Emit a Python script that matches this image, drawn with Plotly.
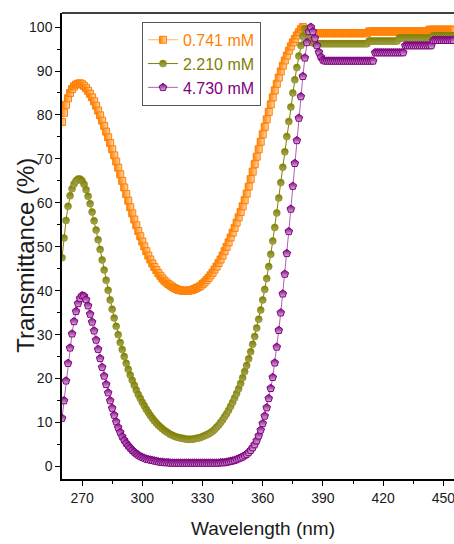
import plotly.graph_objects as go

wavelength = list(range(260, 456))

t_0741 = [
    78.4, 80.5, 82.3, 83.8, 85.0, 85.9, 86.5, 86.9, 87.1, 87.2,
    87.0, 86.6, 86.1, 85.5, 84.8, 84.0, 83.1, 82.1, 81.0, 79.9,
    78.7, 77.5, 76.2, 74.9, 73.6, 72.2, 70.8, 69.4, 68.0, 66.5,
    65.0, 63.5, 62.0, 60.5, 59.0, 57.6, 56.2, 54.9, 53.6, 52.4,
    51.2, 50.1, 49.0, 48.0, 47.1, 46.2, 45.4, 44.7, 44.0, 43.4,
    42.8, 42.3, 41.9, 41.5, 41.2, 40.9, 40.6, 40.4, 40.2, 40.1,
    40.0, 40.0, 40.0, 40.0, 40.1, 40.2, 40.4, 40.6, 40.8, 41.1,
    41.5, 41.9, 42.4, 42.9, 43.5, 44.1, 44.8, 45.5, 46.3, 47.1,
    48.0, 49.0, 50.0, 51.0, 52.1, 53.2, 54.3, 55.5, 56.7, 57.9,
    59.2, 60.6, 62.1, 63.7, 65.4, 67.1, 68.8, 70.5, 72.2, 73.9,
    75.6, 77.3, 79.0, 80.7, 82.4, 84.0, 85.6, 87.1, 88.5, 89.9,
    91.2, 92.4, 93.5, 94.6, 95.6, 96.5, 97.3, 98.1, 98.8, 99.5,
    100.0, 99.6, 99.0, 98.7, 98.6, 98.6, 98.6, 98.6, 98.6, 98.6,
    98.6, 98.6, 98.6, 98.6, 98.6, 98.6, 98.6, 98.6, 98.6, 98.6,
    98.6, 98.6, 98.6, 98.6, 98.6, 98.6, 98.6, 98.6, 98.6, 98.6,
    98.6, 98.6, 98.6, 99.0, 99.0, 99.0, 99.0, 99.0, 99.0, 99.0,
    99.0, 99.0, 99.0, 99.0, 99.0, 99.0, 99.0, 99.0, 99.0, 99.0,
    99.0, 99.0, 99.0, 99.0, 99.0, 99.0, 99.0, 99.0, 99.0, 99.0,
    99.0, 99.0, 99.0, 99.4, 99.4, 99.4, 99.4, 99.4, 99.4, 99.4,
    99.4, 99.4, 99.4, 99.4, 99.4, 99.4,
]

t_2210 = [
    47.5, 52.0, 56.0, 59.2, 61.6, 63.2, 64.3, 65.0, 65.4, 65.4,
    65.0, 64.2, 63.0, 61.5, 59.8, 57.9, 55.9, 53.8, 51.6, 49.4,
    47.0, 44.7, 42.4, 40.1, 37.9, 35.8, 33.8, 31.9, 30.0, 28.2,
    26.6, 25.0, 23.5, 22.1, 20.8, 19.6, 18.5, 17.4, 16.4, 15.5,
    14.6, 13.8, 13.0, 12.3, 11.6, 11.0, 10.4, 9.9, 9.4, 9.0,
    8.6, 8.2, 7.9, 7.6, 7.3, 7.1, 6.9, 6.7, 6.6, 6.5,
    6.4, 6.3, 6.2, 6.2, 6.2, 6.2, 6.3, 6.4, 6.5, 6.6,
    6.8, 7.0, 7.2, 7.4, 7.7, 8.0, 8.4, 8.9, 9.4, 10.0,
    10.6, 11.3, 12.0, 12.8, 13.7, 14.6, 15.6, 16.6, 17.7, 18.9,
    20.2, 21.6, 23.0, 24.5, 26.1, 27.8, 29.6, 31.5, 33.5, 35.6,
    37.9, 40.3, 42.8, 45.5, 48.3, 51.3, 54.4, 57.7, 61.1, 64.6,
    68.1, 71.6, 75.1, 78.5, 81.8, 85.0, 88.0, 90.8, 93.4, 95.8,
    97.9, 99.6, 99.3, 97.9, 96.9, 96.4, 96.2, 96.2, 96.2, 96.2,
    96.2, 96.2, 96.2, 96.2, 96.2, 96.2, 96.2, 96.2, 96.2, 96.2,
    96.2, 96.2, 96.2, 96.2, 96.2, 96.2, 96.2, 96.2, 96.2, 96.2,
    96.2, 96.2, 96.2, 96.8, 96.8, 96.8, 96.8, 96.8, 96.8, 96.8,
    96.8, 96.8, 96.8, 96.8, 96.8, 96.8, 96.8, 96.8, 97.5, 97.5,
    97.5, 97.5, 97.5, 97.5, 97.5, 97.5, 97.5, 97.5, 97.5, 97.5,
    97.5, 97.5, 97.5, 97.5, 97.5, 98.0, 98.0, 98.0, 98.0, 98.0,
    98.0, 98.0, 98.0, 98.0, 98.0, 98.0,
]

t_4730 = [
    11.0, 15.0, 19.5, 23.5, 27.0, 30.2, 33.0, 35.3, 37.1, 38.3,
    38.9, 38.8, 38.0, 36.6, 34.7, 32.9, 30.9, 28.8, 26.7, 24.6,
    22.6, 20.6, 18.7, 16.8, 15.0, 13.3, 11.7, 10.2, 8.9, 7.8,
    6.8, 6.0, 5.3, 4.7, 4.2, 3.7, 3.3, 2.9, 2.6, 2.3,
    2.1, 1.9, 1.7, 1.6, 1.5, 1.4, 1.3, 1.2, 1.1, 1.0,
    1.0, 0.9, 0.9, 0.9, 0.8, 0.8, 0.8, 0.8, 0.8, 0.8,
    0.8, 0.8, 0.8, 0.8, 0.8, 0.8, 0.8, 0.8, 0.8, 0.8,
    0.8, 0.8, 0.8, 0.8, 0.8, 0.8, 0.8, 0.8, 0.8, 0.9,
    0.9, 0.9, 1.0, 1.1, 1.2, 1.3, 1.4, 1.6, 1.8, 2.0,
    2.2, 2.5, 2.8, 3.2, 3.7, 4.3, 5.0, 5.9, 7.0, 8.3,
    9.8, 11.5, 13.4, 15.5, 17.8, 20.3, 23.6, 27.2, 31.0, 35.0,
    39.3, 43.8, 48.5, 53.5, 58.6, 63.8, 69.0, 74.2, 79.3, 84.2,
    88.8, 93.0, 96.5, 99.0, 100.0, 99.0, 97.5, 95.8, 94.3, 93.2,
    92.5, 92.3, 92.3, 92.3, 92.3, 92.3, 92.3, 92.3, 92.3, 92.3,
    92.3, 92.3, 92.3, 92.3, 92.3, 92.3, 92.3, 92.3, 92.3, 92.3,
    92.3, 92.3, 92.3, 92.3, 92.3, 92.3, 94.2, 94.2, 94.2, 94.2,
    94.2, 94.2, 94.2, 94.2, 94.2, 94.2, 94.2, 94.2, 94.2, 94.2,
    94.2, 95.8, 95.8, 95.8, 95.8, 95.8, 95.8, 95.8, 95.8, 95.8,
    95.8, 95.8, 95.8, 95.8, 95.8, 97.0, 97.0, 97.0, 97.0, 97.0,
    97.0, 97.0, 97.0, 97.0, 97.0, 97.0,
]

series_names = ["0.741 mM", "2.210 mM", "4.730 mM"]
x_tick_vals = [270, 300, 330, 360, 390, 420, 450]
y_tick_vals = [0, 10, 20, 30, 40, 50, 60, 70, 80, 90, 100]

ORANGE = "#FF7F00"
OLIVE = "#808000"
PURPLE = "#800080"
FONT = "Liberation Sans, Arial, sans-serif"

fig = go.Figure()

fig.add_trace(go.Scatter(
    x=wavelength, y=t_0741, mode="lines+markers",
    name=f"<span style='color:{ORANGE}'>{series_names[0]}</span>",
    line=dict(color="#FFB070", width=1),
    marker=dict(symbol="square", size=7, color=ORANGE,
                gradient=dict(type="horizontal", color="#FFD8B0"),
                line=dict(color=ORANGE, width=1)),
))
fig.add_trace(go.Scatter(
    x=wavelength, y=t_2210, mode="lines+markers",
    name=f"<span style='color:{OLIVE}'>{series_names[1]}</span>",
    line=dict(color=OLIVE, width=1),
    marker=dict(symbol="circle", size=7, color=OLIVE,
                gradient=dict(type="vertical", color="#A8A860"),
                line=dict(color=OLIVE, width=0.5)),
))
fig.add_trace(go.Scatter(
    x=wavelength, y=t_4730, mode="lines+markers",
    name=f"<span style='color:{PURPLE}'>{series_names[2]}</span>",
    line=dict(color="#B060B0", width=1),
    marker=dict(symbol="pentagon", size=8, color=PURPLE,
                gradient=dict(type="vertical", color="#D8B0D8"),
                line=dict(color=PURPLE, width=1)),
))

tick_font = dict(family=FONT, size=14, color="#1a1a1a")

fig.update_layout(
    width=454, height=544,
    margin=dict(l=62, r=0, t=13, b=65),
    paper_bgcolor="white", plot_bgcolor="white",
    showlegend=True,
    legend=dict(
        x=0.204, y=0.981, xanchor="left", yanchor="top",
        bgcolor="white", bordercolor="#555555", borderwidth=1,
        font=dict(family=FONT, size=16),
        itemwidth=30, tracegroupgap=0,
    ),
    xaxis=dict(
        range=[260, 455.3], tickvals=x_tick_vals,
        ticks="outside", ticklen=5, tickwidth=1.2, tickcolor="black",
        minor=dict(tickvals=[285, 315, 345, 375, 405, 435], ticks="outside",
                   ticklen=3, tickwidth=1, tickcolor="black"),
        showline=True, linecolor="black", linewidth=1.5, mirror=False,
        showgrid=False, zeroline=False, tickfont=tick_font, automargin=False,
        ticklabeloverflow="allow",
    ),
    yaxis=dict(
        range=[-2.85, 103.2], tickvals=y_tick_vals,
        ticks="outside", ticklen=5, tickwidth=1.2, tickcolor="black",
        minor=dict(tickvals=[5, 15, 25, 35, 45, 55, 65, 75, 85, 95], ticks="outside",
                   ticklen=3, tickwidth=1, tickcolor="black"),
        showline=True, linecolor="black", linewidth=1.5, mirror=False,
        showgrid=False, zeroline=False, tickfont=tick_font, automargin=False,
        ticklabeloverflow="allow",
    ),
    shapes=[dict(type="line", xref="paper", yref="paper", x0=0, x1=1, y0=1, y1=1,
                 line=dict(color="black", width=1.5))],
    annotations=[
        dict(text="Wavelength (nm)", xref="paper", yref="paper", x=0.513, y=-0.107,
             xanchor="center", yanchor="middle", showarrow=False,
             font=dict(family=FONT, size=19, color="#1a1a1a")),
        dict(text="Transmittance (%)", xref="paper", yref="paper", x=-0.093, y=0.48,
             xanchor="center", yanchor="middle", showarrow=False, textangle=-90,
             font=dict(family=FONT, size=24, color="#1a1a1a")),
    ],
)

fig.write_html("out.html", config={"displayModeBar": False},
               post_script="document.body.style.margin='0px';document.body.style.overflow='hidden';")
